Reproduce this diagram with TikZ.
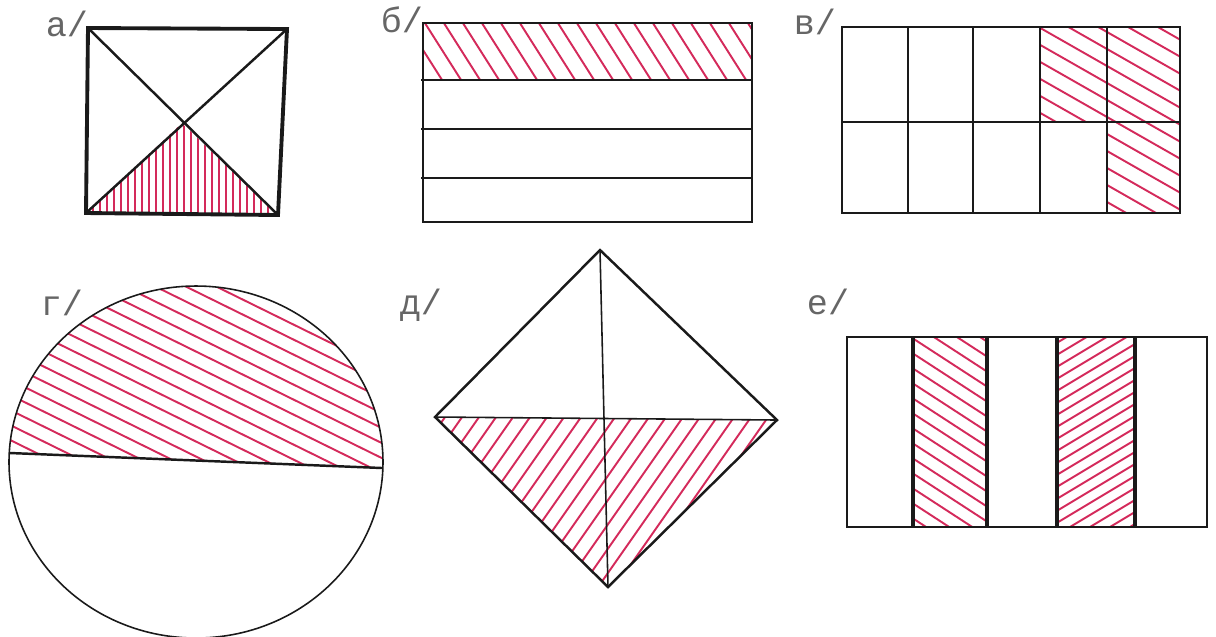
\documentclass[tikz,border=0pt]{standalone}
\usepackage{fontspec}
\newfontfamily\labfont{Liberation Mono}
\usetikzlibrary{calc}
\definecolor{Ink}{HTML}{1A1A1A}
\definecolor{HatchRed}{HTML}{D42A5B}
\definecolor{LabelGray}{HTML}{666666}

\begin{document}
\begin{tikzpicture}[
    x=0.1mm,y=-0.1mm,
    edge/.style={draw=Ink,line width=0.7pt},
    heavy/.style={draw=Ink,line width=1.1pt},
    fine/.style={draw=Ink,line width=0.45pt},
    hatch/.style={draw=HatchRed,line width=0.55pt},
    lab/.style={font=\labfont\fontsize{10}{12}\selectfont,text=LabelGray,inner sep=0pt},
  ]
  \useasboundingbox (0,0) rectangle (1216,636);

  % labels
  \node[lab] (la) at (67,24) {а/};
  \node[lab] (lb) at (402,20) {б/};
  \node[lab] (lv) at (815,22) {в/};
  \node[lab] (lg) at (62,303) {г/};
  \node[lab] (ld) at (421,305) {д/};
  \node[lab] (le) at (828,302) {е/};

  % a: square with diagonals
  \coordinate (a1) at (88,28);
  \coordinate (a2) at (287,29);
  \coordinate (a3) at (278,215);
  \coordinate (a4) at (86,213);
  \coordinate (ac) at (182,123);
  \begin{scope}
    \clip (a4) -- (ac) -- (a3) -- cycle;
    \foreach \x in {86,93,...,280} {
      \draw[hatch] (\x,118) -- (\x,218);
    }
  \end{scope}
  \draw[heavy] (a1) -- (a2) -- (a3) -- (a4) -- cycle;
  \draw[edge] (a1) -- (a3);
  \draw[edge] (a2) -- (a4);

  % b: four strips
  \begin{scope}
    \clip (423,23) rectangle (752,80);
    \foreach \x in {385,404,...,760} {
      \draw[hatch] (\x,20) -- ++(40,63);
    }
  \end{scope}
  \draw[edge] (423,23) rectangle (752,222);
  \foreach \y in {80,129,178} {
    \draw[edge] (421,\y) -- (752,\y);
  }

  % v: grid 5 x 2
  \begin{scope}
    \clip (1040,27) rectangle (1180,122) (1107,122) rectangle (1180,213);
    \foreach \y in {-80,-63,...,200} {
      \draw[hatch] (1000,\y) -- ++(200,114);
    }
  \end{scope}
  \draw[fine] (842,27) rectangle (1180,213);
  \draw[fine] (842,122) -- (1180,122);
  \foreach \x in {908,973,1040,1107} {
    \draw[fine] (\x,27) -- (\x,213);
  }

  % g: circle cut by a chord
  \begin{scope}
    \clip (196,462) ellipse [x radius=18.7mm,y radius=17.6mm];
    \clip (0,452) -- (390,468) -- (390,270) -- (0,270) -- cycle;
    \foreach \y in {90,105,...,470} {
      \draw[hatch] (0,\y) -- ++(400,197);
    }
  \end{scope}
  \draw[fine] (196,462) ellipse [x radius=18.7mm,y radius=17.6mm];
  \draw[edge] (10,453) -- (382,468);

  % d: rhombus
  \coordinate (dt) at (600,250);
  \coordinate (dl) at (435,417);
  \coordinate (dr) at (777,420);
  \coordinate (db) at (608,587);
  \begin{scope}
    \clip (dl) -- (dr) -- (db) -- cycle;
    \foreach \x in {300,317,...,790} {
      \draw[hatch] (\x,600) -- ++(140,-200);
    }
  \end{scope}
  \draw[edge] (dt) -- (dr) -- (db) -- (dl) -- cycle;
  \draw[fine] (dt) -- (db);
  \draw[fine] (dl) -- (dr);

  % e: strips with two shaded bands
  \begin{scope}
    \clip (913,337) rectangle (987,527);
    \foreach \y in {270,285,...,530} {
      \draw[hatch] (900,\y) -- ++(100,65);
    }
  \end{scope}
  \begin{scope}
    \clip (1057,337) rectangle (1135,527);
    \foreach \y in {335,347,...,600} {
      \draw[hatch] (1050,\y) -- ++(100,-60);
    }
  \end{scope}
  \draw[fine] (847,337) rectangle (1207,527);
  \foreach \x in {913,987,1057,1135} {
    \draw[heavy] (\x,337) -- (\x,527);
  }
\end{tikzpicture}
\end{document}
